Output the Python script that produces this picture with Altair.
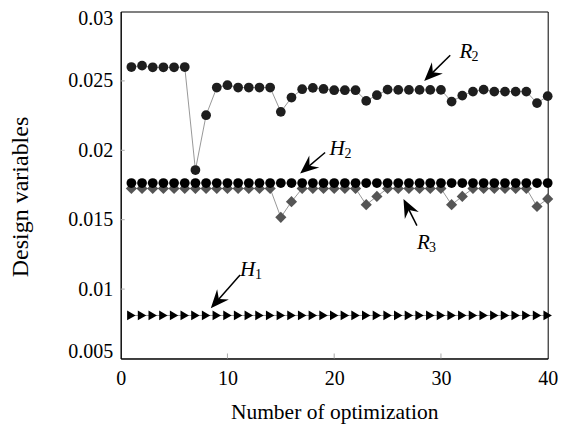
import math
import altair as alt
import pandas as pd

# ---------------- data ----------------
iterations = list(range(1, 41))

R2 = [0.02600, 0.02610, 0.02598, 0.02598, 0.02598, 0.02600, 0.01858, 0.02253, 0.02452, 0.02469,
      0.02452, 0.02452, 0.02452, 0.02452, 0.02277, 0.02380, 0.02440, 0.02450, 0.02442, 0.02433,
      0.02433, 0.02433, 0.02356, 0.02397, 0.02437, 0.02435, 0.02435, 0.02435, 0.02435, 0.02435,
      0.02351, 0.02394, 0.02423, 0.02437, 0.02423, 0.02423, 0.02423, 0.02423, 0.02340, 0.02390]

H2 = [0.01764, 0.01764, 0.01764, 0.01764, 0.01764, 0.01764, 0.01764, 0.01764, 0.01764, 0.01764,
      0.01764, 0.01764, 0.01764, 0.01764, 0.01764, 0.01764, 0.01764, 0.01764, 0.01764, 0.01764,
      0.01764, 0.01764, 0.01764, 0.01764, 0.01764, 0.01764, 0.01764, 0.01764, 0.01764, 0.01764,
      0.01764, 0.01764, 0.01764, 0.01764, 0.01764, 0.01764, 0.01764, 0.01764, 0.01764, 0.01764]

R3 = [0.01725, 0.01725, 0.01725, 0.01725, 0.01725, 0.01725, 0.01725, 0.01725, 0.01725, 0.01725,
      0.01725, 0.01725, 0.01725, 0.01725, 0.01517, 0.01630, 0.01725, 0.01725, 0.01725, 0.01725,
      0.01725, 0.01725, 0.01608, 0.01668, 0.01725, 0.01725, 0.01725, 0.01725, 0.01725, 0.01725,
      0.01608, 0.01668, 0.01725, 0.01725, 0.01725, 0.01725, 0.01725, 0.01725, 0.01595, 0.01650]

H1 = [0.0081, 0.0081, 0.0081, 0.0081, 0.0081, 0.0081, 0.0081, 0.0081, 0.0081, 0.0081,
      0.0081, 0.0081, 0.0081, 0.0081, 0.0081, 0.0081, 0.0081, 0.0081, 0.0081, 0.0081,
      0.0081, 0.0081, 0.0081, 0.0081, 0.0081, 0.0081, 0.0081, 0.0081, 0.0081, 0.0081,
      0.0081, 0.0081, 0.0081, 0.0081, 0.0081, 0.0081, 0.0081, 0.0081, 0.0081, 0.0081]

x_ticks = [0, 10, 20, 30, 40]
y_ticks = [0.005, 0.01, 0.015, 0.02, 0.025, 0.03]
inner_x_ticks = [10, 20, 30]
inner_y_ticks = [0.01, 0.015, 0.02, 0.025]

# annotations (data coordinates)
ann_letter = ["R", "H", "R", "H"]
ann_sub = ["2", "2", "3", "1"]
ann_tail_x = [30.87, 19.15, 27.75, 11.18]
ann_tail_y = [0.02685, 0.01984, 0.01457, 0.01102]
ann_tip_x = [28.43, 16.81, 26.49, 8.44]
ann_tip_y = [0.02500, 0.01833, 0.01649, 0.00862]
ann_label_x = [31.74, 19.56, 27.75, 11.18]
ann_label_y = [0.02668, 0.01968, 0.01289, 0.01092]

# ---------------- layout ----------------
W, H = 427, 347
XMIN, XMAX = 0, 40
YMIN, YMAX = 0.005, 0.03
FONT = "Liberation Serif"
px_x = W / (XMAX - XMIN)
px_y = H / (YMAX - YMIN)

def series_df(name, vals):
    return pd.DataFrame({"it": iterations, "v": vals, "series": name})

df_r2 = series_df("R2", R2)
df_h2 = series_df("H2", H2)
df_r3 = series_df("R3", R3)
df_h1 = series_df("H1", H1)
df_all = pd.concat([df_r2, df_h2, df_r3, df_h1], ignore_index=True)

xs = alt.Scale(domain=[XMIN, XMAX], nice=False, zero=False)
ys = alt.Scale(domain=[YMIN, YMAX], nice=False, zero=False)
xaxis = alt.Axis(values=x_ticks, title="Number of optimization",
                 labelPadding=10, titlePadding=13, labelFlush=False, titleFontSize=21.5)
yaxis = alt.Axis(values=y_ticks, format=".3~f", title="Design variables",
                 labelPadding=8, labelFlush=True, labelFlushOffset=3,
                 titleFontSize=24, titleX=-88, titleY=185)

def X(f):
    return alt.X(f + ":Q", scale=xs, axis=xaxis, title="Number of optimization")

def Y(f):
    return alt.Y(f + ":Q", scale=ys, axis=yaxis, title="Design variables")

lines = alt.Chart(df_all).mark_line(color="#8c8c8c", strokeWidth=0.9).encode(
    x=X("it"), y=Y("v"), detail="series:N")

r3_pts = alt.Chart(df_r3).mark_point(shape="diamond", filled=True, size=125,
                                     color="#555555", opacity=1, strokeWidth=0).encode(x=X("it"), y=Y("v"))
h2_pts = alt.Chart(df_h2).mark_circle(size=95, color="#000000", opacity=1).encode(x=X("it"), y=Y("v"))
r2_pts = alt.Chart(df_r2).mark_circle(size=95, color="#1e1e1e", opacity=1).encode(x=X("it"), y=Y("v"))
h1_pts = alt.Chart(df_h1).mark_point(shape="triangle-right", filled=True, size=95,
                                     color="#000000", opacity=1, strokeWidth=0).encode(x=X("it"), y=Y("v"))

# inner tick marks
tick_len_px = 5
df_xt = pd.DataFrame({"it": inner_x_ticks})
df_xt["v"] = YMIN
df_xt["v2"] = YMIN + tick_len_px / px_y
xt = alt.Chart(df_xt).mark_rule(color="#aaaaaa", strokeWidth=1).encode(
    x=X("it"), y=Y("v"), y2="v2:Q")
df_yt = pd.DataFrame({"v": inner_y_ticks})
df_yt["it"] = XMIN
df_yt["it2"] = XMIN + 4 / px_x
yt = alt.Chart(df_yt).mark_rule(color="#aaaaaa", strokeWidth=1).encode(
    x=X("it"), x2="it2:Q", y=Y("v"))

# arrows
rows = []
for i in range(len(ann_letter)):
    dxp = (ann_tip_x[i] - ann_tail_x[i]) * px_x
    dyp = -(ann_tip_y[i] - ann_tail_y[i]) * px_y
    ang = math.degrees(math.atan2(dxp, -dyp)) % 360
    lenp = math.hypot(dxp, dyp)
    f = 10.0 / lenp
    rows.append({
        "letter": ann_letter[i], "sub": ann_sub[i],
        "tx": ann_tail_x[i], "ty": ann_tail_y[i],
        "hx": ann_tip_x[i], "hy": ann_tip_y[i],
        "ex": ann_tip_x[i] + (ann_tail_x[i] - ann_tip_x[i]) * f,
        "ey": ann_tip_y[i] + (ann_tail_y[i] - ann_tip_y[i]) * f,
        "lx": ann_label_x[i], "ly": ann_label_y[i],
        "ang": ang,
    })
df_ann = pd.DataFrame(rows)

shafts = alt.Chart(df_ann).mark_rule(color="black", strokeWidth=1.5).encode(
    x=X("tx"), y=Y("ty"), x2="ex:Q", y2="ey:Q")
heads = alt.Chart(df_ann).mark_point(
    shape="M0,0L0.8,1.9L0,1.25L-0.8,1.9Z", filled=True, size=380,
    color="black", opacity=1, strokeWidth=0).encode(
    x=X("hx"), y=Y("hy"), angle=alt.Angle("ang:Q", scale=None))
letters = alt.Chart(df_ann).mark_text(
    align="left", baseline="alphabetic", font=FONT, fontStyle="italic",
    fontSize=21, color="black").encode(x=X("lx"), y=Y("ly"), text="letter:N")
subs_r = alt.Chart(df_ann).transform_filter(alt.datum.letter == "R").mark_text(
    align="left", baseline="alphabetic", font=FONT, fontSize=14, color="black",
    dx=12, dy=3).encode(x=X("lx"), y=Y("ly"), text="sub:N")
subs_h = alt.Chart(df_ann).transform_filter(alt.datum.letter == "H").mark_text(
    align="left", baseline="alphabetic", font=FONT, fontSize=14, color="black",
    dx=15, dy=3).encode(x=X("lx"), y=Y("ly"), text="sub:N")

chart = alt.layer(
    xt, yt, lines, r3_pts, h2_pts, r2_pts, h1_pts, shafts, heads, letters, subs_r, subs_h
).properties(
    width=W, height=H,
    autosize=alt.AutoSizeParams(type="none"),
    padding={"left": 112.7, "top": 3.5, "right": 16, "bottom": 66.5},
).configure_axis(
    labelFont=FONT, labelFontSize=20, labelColor="black",
    titleFont=FONT, titleFontWeight="normal", titleColor="black",
    domainColor="black", domainWidth=1, ticks=False, tickSize=0, grid=False,
).configure_view(stroke="black", strokeWidth=1)

chart.save("out.html", embed_options={"renderer": "svg", "actions": False})
